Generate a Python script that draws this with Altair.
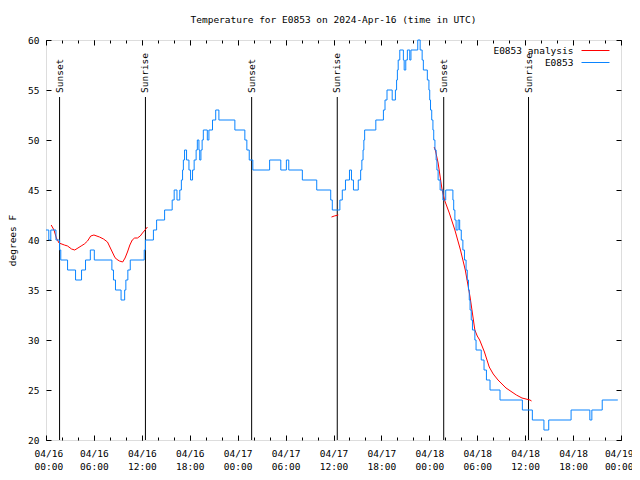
import altair as alt
import pandas as pd

# ---------------- data (hours since 2024-04-16 00:00 UTC) ----------------
obs_hours = [
    0.0, 0.35, 0.6, 1.25, 1.7, 1.85, 2.7, 3.7, 4.45, 4.95, 5.55, 6.05,
    8.25, 8.45, 8.7, 9.4, 9.85, 10.0, 10.25, 10.55, 12.3, 12.45, 13.45, 13.85,
    14.85, 15.8, 16.05, 16.4, 16.75, 16.95, 17.1, 17.2, 17.35, 17.6, 17.9, 18.1,
    18.35, 18.55, 18.8, 18.95, 19.15, 19.25, 19.4, 19.55, 19.7, 20.2, 20.4, 20.85,
    21.25, 21.65, 23.65, 24.9, 25.15, 25.45, 25.9, 28.0, 29.4, 30.1, 30.4, 32.1,
    33.9, 35.65, 35.85, 36.8, 37.1, 37.5, 38.0, 38.25, 38.5, 39.1, 39.4, 39.55,
    39.7, 39.8, 39.9, 41.3, 42.25, 42.45, 42.7, 43.35, 43.75, 43.9, 44.0, 44.1,
    44.3, 44.75, 44.85, 45.05, 45.25, 45.55, 45.7, 46.55, 46.85, 47.1, 47.25, 47.75,
    47.95, 48.05, 48.15, 48.3, 48.45, 48.55, 48.7, 48.85, 48.95, 49.1, 49.35, 49.7,
    50.05, 50.95, 51.05, 51.2, 51.35, 51.6, 51.8, 52.0, 52.2, 52.4, 52.6, 52.75,
    52.9, 53.0, 53.1, 53.25, 53.4, 53.7, 53.85, 54.5, 54.85, 55.15, 55.6, 56.85,
    59.65, 60.9, 62.35, 62.95, 65.75, 68.1, 68.35, 69.65, 71.6,
]
obs_temp = [
    41, 40, 41, 40, 39, 38, 37, 36, 37, 38, 39, 38,
    37, 36, 35, 34, 35, 36, 37, 38, 39, 40, 41, 42,
    43, 44, 45, 44, 45, 46, 47, 48, 49, 48, 47, 46,
    47, 48, 49, 50, 49, 48, 49, 50, 51, 50, 51, 52,
    53, 52, 51, 50, 49, 48, 47, 48, 47, 48, 47, 46,
    45, 44, 43, 44, 45, 46, 47, 46, 45, 46, 47, 48,
    49, 50, 51, 52, 53, 54, 55, 54, 55, 56, 57, 58,
    59, 58, 57, 58, 59, 58, 59, 60, 59, 58, 57, 56,
    55, 54, 53, 52, 51, 50, 49, 48, 47, 46, 45, 44,
    45, 44, 43, 42, 41, 42, 41, 40, 39, 38, 37, 36,
    35, 34, 33, 32, 31, 30, 29, 28, 27, 26, 25, 24,
    23, 22, 21, 22, 23, 22, 23, 24, 24,
]

ana_seg = (["a"] * 33) + (["b"] * 3) + (["c"] * 22)
ana_hours = [
    0.65, 1.0, 1.3, 1.63, 2.3, 2.7, 3.2, 3.6, 4.0, 4.4, 4.8, 5.2, 5.6, 6.0, 6.7,
    7.2, 7.7, 8.0, 8.3, 8.6, 8.8, 9.2, 9.6, 9.9, 10.2, 10.5, 10.8, 11.1, 11.45,
    11.8, 12.08, 12.4, 12.7,
    35.75, 36.1, 36.6,
    48.6, 48.75, 49.1, 49.6, 49.9, 50.5, 51.2, 51.9, 52.5, 53.1, 53.7, 54.0,
    54.3, 54.9, 55.5, 56.0, 56.6, 57.6, 58.9, 59.6, 60.6, 60.8,
]
ana_temp = [
    41.5, 41.0, 40.2, 39.7, 39.5, 39.4, 39.1, 39.0, 39.2, 39.4, 39.6, 39.9, 40.4,
    40.5, 40.3, 40.1, 39.8, 39.3, 38.8, 38.3, 38.1, 37.9, 37.8, 38.2, 38.8, 39.5,
    40.0, 40.2, 40.2, 40.4, 40.7, 41.0, 41.3,
    42.3, 42.4, 42.5,
    49.3, 49.0, 47.7, 45.0, 44.0, 42.7, 41.0, 39.0, 37.0, 34.3, 31.0, 30.4,
    30.0, 28.8, 27.3, 26.6, 26.0, 25.2, 24.5, 24.2, 24.0, 23.9,
]

event_hours = [1.7, 12.45, 25.75, 36.47, 49.8, 60.42]
event_labels = ["Sunset", "Sunrise", "Sunset", "Sunrise", "Sunset", "Sunrise"]
event_bottom = 20
event_top = 54.3
event_label_y = 54.7

series_names = ["E0853 analysis", "E0853"]
series_colors = ["#ff0000", "#0a84ff"]

x_major = list(range(0, 73, 6))
x_minor = list(range(0, 73, 2))
y_ticks = list(range(20, 61, 5))

title_text = "Temperature for E0853 on 2024-Apr-16 (time in UTC)"
y_title = "degrees F"

FONT = "DejaVu Sans Mono"
FS = 9.5

# ---------------- frames ----------------
obs = pd.DataFrame({"h": obs_hours, "t": obs_temp, "series": series_names[1], "seg": "obs"})
ana = pd.DataFrame({"h": ana_hours, "t": ana_temp, "series": series_names[0], "seg": ana_seg})
ev = pd.DataFrame({
    "h": event_hours, "label": event_labels,
    "y0": event_bottom, "y1": event_top, "ylab": event_label_y,
})

xscale = alt.Scale(domain=[0, 72], nice=False, zero=False)
yscale = alt.Scale(domain=[20, 60], nice=False, zero=False)

label_expr = ("['04/' + (16 + floor(datum.value / 24)), "
              "(datum.value % 24 < 10 ? '0' : '') + (datum.value % 24) + ':00']")

color = alt.Color(
    "series:N",
    scale=alt.Scale(domain=series_names, range=series_colors),
    legend=alt.Legend(
        title=None, orient="none", legendX=543, legendY=4,
        symbolType="M-2.5,0H2.5", symbolSize=125, symbolStrokeWidth=1,
        labelAlign="right", labelOffset={"expr": "-28.5"}, labelFont=FONT,
        labelFontSize=FS, labelColor="black", padding=0, rowPadding=1,
    ),
)

x_main = alt.X("h:Q", scale=xscale, axis=alt.Axis(
    values=x_major, labelExpr=label_expr, ticks=False, domain=False, grid=False,
    title=None, labelFont=FONT, labelFontSize=FS, labelColor="black",
    labelPadding=8, labelLineHeight=13, labelFlush=True, labelFlushOffset=12,
    labelOverlap=False))
y_main = alt.Y("t:Q", scale=yscale, axis=alt.Axis(
    values=y_ticks, ticks=False, domain=False, grid=False, title=y_title,
    titleFont=FONT, titleFontSize=FS, titleFontWeight="normal", titleColor="black",
    titleX=-34, titleY=200, titleAngle=270, titleAlign="center",
    titleBaseline="middle", labelFont=FONT, labelFontSize=FS,
    labelColor="black", labelPadding=7))

x_none = alt.X("h:Q", scale=xscale, axis=None)
y_none = alt.Y("t:Q", scale=yscale, axis=None)


def tick_axis(orient, size, values):
    return alt.Axis(orient=orient, values=values, tickSize=size, offset=-size,
                    labels=False, domain=False, grid=False, title=None,
                    tickColor="black", tickWidth=1)


red = alt.Chart(ana).mark_line(strokeWidth=1).encode(
    x=x_none, y=y_none, color=color, detail="seg:N")
blue = alt.Chart(obs).mark_line(strokeWidth=1, interpolate="step-after").encode(
    x=x_main, y=y_main, color=color)

rules = alt.Chart(ev).mark_rule(color="black", strokeWidth=1).encode(
    x=alt.X("h:Q", scale=xscale, axis=None),
    y=alt.Y("y0:Q", scale=yscale, axis=None), y2="y1:Q")
texts = alt.Chart(ev).mark_text(
    angle=270, align="left", baseline="middle", font=FONT, fontSize=FS,
    color="black").encode(
    x=alt.X("h:Q", scale=xscale, axis=None),
    y=alt.Y("ylab:Q", scale=yscale, axis=None), text="label:N")

ticks_a = alt.Chart(obs).mark_point(opacity=0).encode(
    x=alt.X("h:Q", scale=xscale, axis=tick_axis("bottom", 5, x_major)),
    y=alt.Y("t:Q", scale=yscale, axis=tick_axis("left", 5, y_ticks)))
ticks_b = alt.Chart(obs).mark_point(opacity=0).encode(
    x=alt.X("h:Q", scale=xscale, axis=tick_axis("bottom", 3, x_minor)),
    y=alt.Y("t:Q", scale=yscale, axis=tick_axis("right", 5, y_ticks)))
ticks_c = alt.Chart(obs).mark_point(opacity=0).encode(
    x=alt.X("h:Q", scale=xscale, axis=tick_axis("top", 5, x_major)), y=y_none)
ticks_d = alt.Chart(obs).mark_point(opacity=0).encode(
    x=alt.X("h:Q", scale=xscale, axis=tick_axis("top", 3, x_minor)), y=y_none)

chart = alt.layer(
    rules, texts, red, blue, ticks_a, ticks_b, ticks_c, ticks_d
).resolve_axis(x="independent", y="independent").properties(
    width=575, height=400,
    title=alt.Title(title_text, font=FONT, fontSize=FS, fontWeight="normal",
                    color="black", anchor="middle", offset=11),
    padding={"left": 38, "top": 32, "right": 11, "bottom": 34},
    autosize=alt.AutoSizeParams(type="none"),
).configure_view(stroke="black", strokeWidth=1).configure(background="white")

chart.save("out.html", embed_options={"renderer": "svg", "actions": False})
